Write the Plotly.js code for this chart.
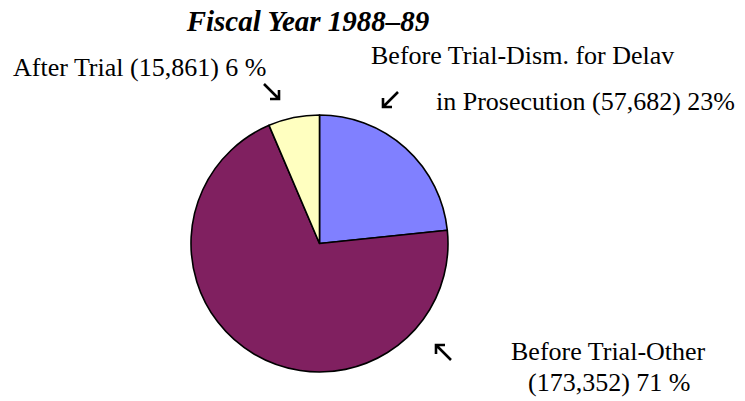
<!DOCTYPE html>
<html><head><meta charset="utf-8">
<script src="https://cdn.plot.ly/plotly-3.0.1.min.js"></script>
<style>body{margin:0;background:#fff}#chart{width:745px;height:401px}</style>
</head><body><div id="chart"></div>
<script>
const categories = ["Before Trial-Dism. for Delay in Prosecution", "Before Trial-Other", "After Trial"];
const values = [57682, 173352, 15861];
const colors = ["#8080FF", "#802060", "#FFFFC0"];
const titleText = "Fiscal Year 1988–89";
const labelLines = [
  "After Trial (15,861) 6 %",
  "Before Trial-Dism. for Delav",
  "in Prosecution (57,682) 23%",
  "Before Trial-Other",
  "(173,352) 71 %"
];

const W = 745, H = 401;
const px = x => x / W, py = y => 1 - y / H;
const cx = 319.5, cy = 243.5, r = 128.5;

const serif = "Liberation Serif, Times New Roman, serif";
const font = {family: serif, size: 26, color: "#000"};
function ann(text, x, y) {
  return {text: text, x: px(x), y: py(y), xref: "paper", yref: "paper", xanchor: "left", yanchor: "middle", showarrow: false, font: font, borderpad: 0};
}
// corner arrow: tip at (tx,ty), direction (dx,dy) unit signs, length L, head h
function arrowPath(tx, ty, dx, dy, L, h) {
  const sx = tx - dx * L, sy = ty - dy * L;
  const p = (x, y) => px(x) + " " + py(y);
  return "M " + p(sx, sy) + " L " + p(tx, ty) +
         " M " + p(tx, ty - dy * h) + " L " + p(tx, ty) + " L " + p(tx - dx * h, ty);
}
function arrowShape(tx, ty, dx, dy) {
  return {type: "path", xref: "paper", yref: "paper", path: arrowPath(tx, ty, dx, dy, 15, 9),
          line: {color: "#000", width: 2.6}};
}

const data = [{
  type: "pie",
  labels: categories,
  values: values,
  sort: false,
  direction: "clockwise",
  rotation: 0,
  textinfo: "none",
  hoverinfo: "label+value+percent",
  marker: {colors: colors, line: {color: "#000", width: 1.6}},
  domain: {x: [px(cx - r), px(cx + r)], y: [py(cy + r), py(cy - r)]}
}];

const layout = {
  width: W, height: H,
  margin: {l: 0, r: 0, t: 0, b: 0},
  paper_bgcolor: "#fff",
  showlegend: false,
  title: {text: "<b><i>" + titleText + "</i></b>", x: px(308), xanchor: "center", y: py(21), yanchor: "middle",
          font: {family: serif, size: 29, color: "#000"}},
  annotations: [
    ann(labelLines[0], 12, 67),
    ann(labelLines[1], 370, 55),
    ann(labelLines[2], 435, 102),
    ann(labelLines[3], 510, 351),
    ann(labelLines[4], 527, 382)
  ],
  shapes: [
    arrowShape(279, 99, 1, 1),
    arrowShape(383, 107, -1, 1),
    arrowShape(436, 345, -1, -1)
  ]
};
Plotly.newPlot("chart", data, layout, {staticPlot: true, displayModeBar: false});
</script></body></html>
